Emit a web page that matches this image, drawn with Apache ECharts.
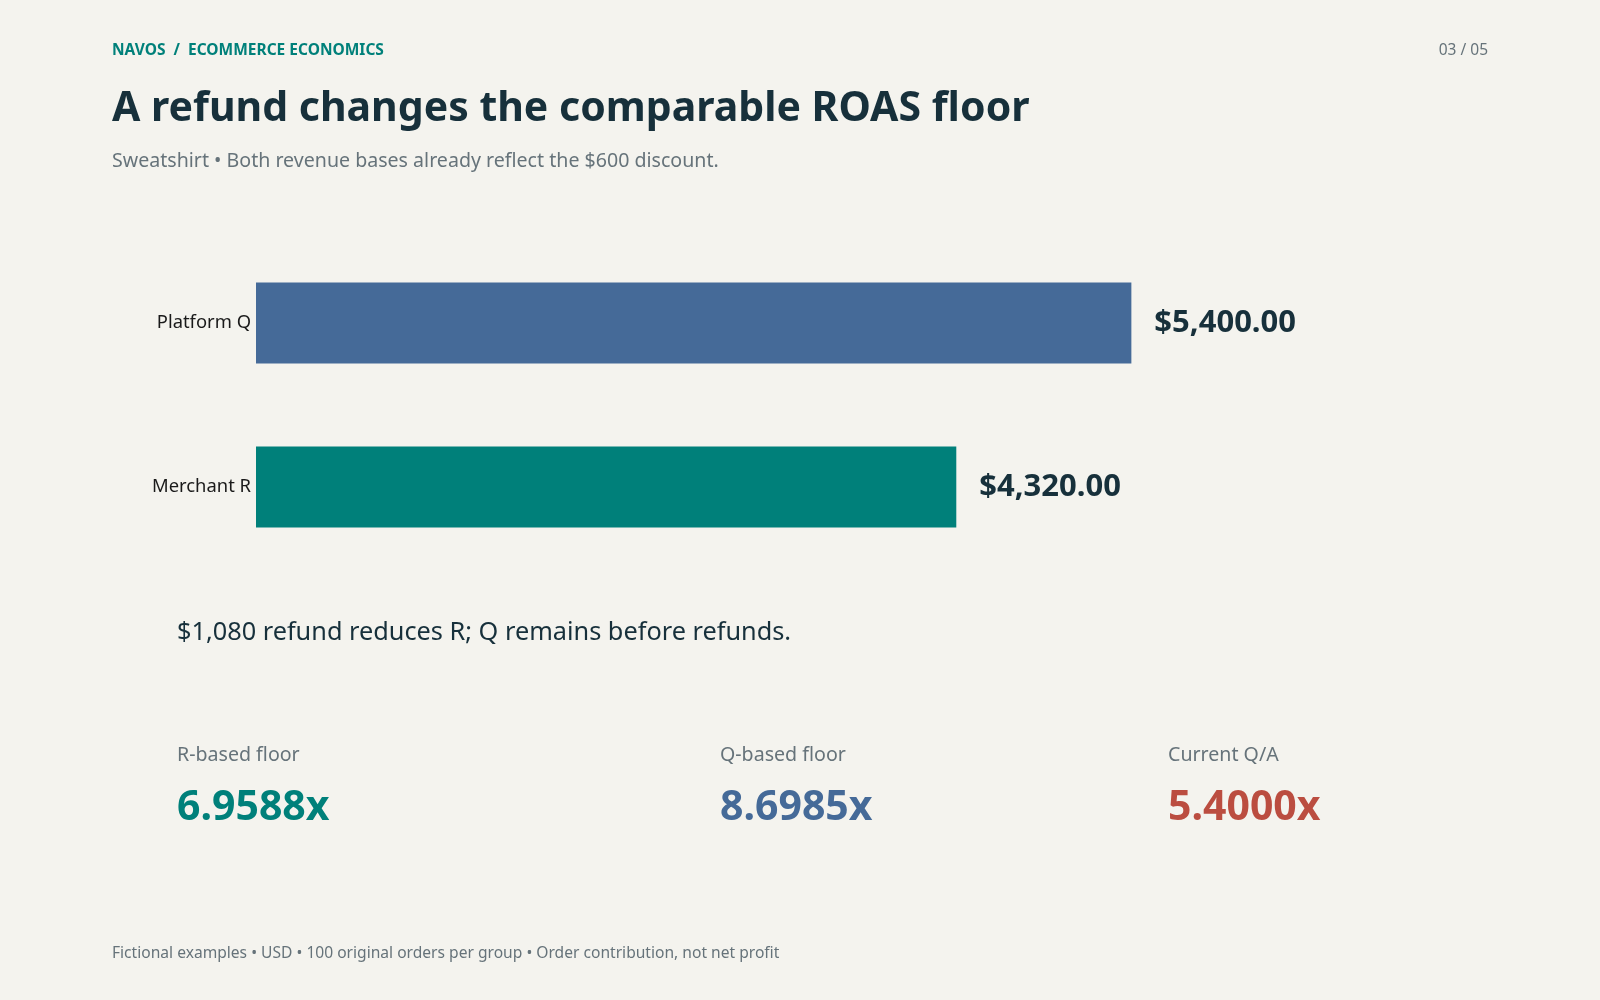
<!DOCTYPE html>
<html>
<head>
<meta charset="utf-8">
<script src="https://cdn.jsdelivr.net/npm/echarts@6/dist/echarts.min.js"></script>
<style>
  html, body { margin: 0; padding: 0; background: #f4f3ee; }
  #container { width: 1600px; height: 1000px; }
</style>
</head>
<body>
<div id="container"></div>
<script>
var dom = document.getElementById("container");
var myChart = echarts.init(dom);

var FONT = '"Noto Sans", sans-serif';
var INK = '#17303b', GREY = '#66737a', TEAL = '#00807a', BLUE = '#456a98', RED = '#bb4d40';

// bars
var categories = ['Platform Q', 'Merchant R'];
var revenue = [5400, 4320];
var barColors = [BLUE, TEAL];

// kpi row
var kpiLabels = ['R-based floor', 'Q-based floor', 'Current Q/A'];
var kpiValues = ['6.9588x', '8.6985x', '5.4000x'];
var kpiColors = [TEAL, BLUE, RED];
var kpiX = [177, 720, 1168];

function money(v) {
    return '$' + v.toLocaleString('en-US', {minimumFractionDigits: 2, maximumFractionDigits: 2});
}

function txt(x, y, s, size, color, weight, align) {
    return {
        type: 'text', x: x, y: y,
        style: {
            text: s, fill: color, font: (weight || 'normal') + ' ' + size + 'px ' + FONT,
            textAlign: align || 'left', textVerticalAlign: 'middle'
        }
    };
}

var graphics = [
    txt(112, 51, 'NAVOS  /  ECOMMERCE ECONOMICS', 15.5, TEAL, 'bold'),
    txt(1488, 51, '03 / 05', 15.5, GREY, 'normal', 'right'),
    txt(112, 109, 'A refund changes the comparable ROAS floor', 41, INK, 'bold'),
    txt(112, 161, 'Sweatshirt \u2022 Both revenue bases already reflect the $600 discount.', 19.6, GREY),
    txt(177, 633, '$1,080 refund reduces R; Q remains before refunds.', 25.3, INK),
    txt(112, 954, 'Fictional examples \u2022 USD \u2022 100 original orders per group \u2022 Order contribution, not net profit', 15.6, GREY)
];
for (var i = 0; i < kpiLabels.length; i++) {
    graphics.push(txt(kpiX[i], 755, kpiLabels[i], 19.6, GREY));
    graphics.push(txt(kpiX[i], 808, kpiValues[i], 41, kpiColors[i], 'bold'));
}

option = {
    backgroundColor: '#f4f3ee',
    animation: false,
    grid: {left: 256, right: 112, top: 241, height: 328},
    xAxis: {
        type: 'value',
        min: 0,
        max: 7600,
        show: false
    },
    yAxis: {
        type: 'category',
        inverse: true,
        data: categories,
        axisLine: {show: false},
        axisTick: {show: false},
        axisLabel: {margin: 5, fontSize: 18.4, color: '#1a1a1a', fontFamily: FONT, padding: [8, 0, 0, 0]}
    },
    series: [{
        type: 'bar',
        barWidth: 81,
        data: revenue.map(function (v, i) {
            return {value: v, itemStyle: {color: barColors[i]}};
        }),
        label: {
            show: true,
            position: 'right',
            distance: 23,
            formatter: function (p) { return money(p.value); },
            fontSize: 31,
            fontWeight: 'bold',
            color: INK,
            fontFamily: FONT
        }
    }],
    graphic: graphics
};

myChart.setOption(option, true);
</script>
</body>
</html>
